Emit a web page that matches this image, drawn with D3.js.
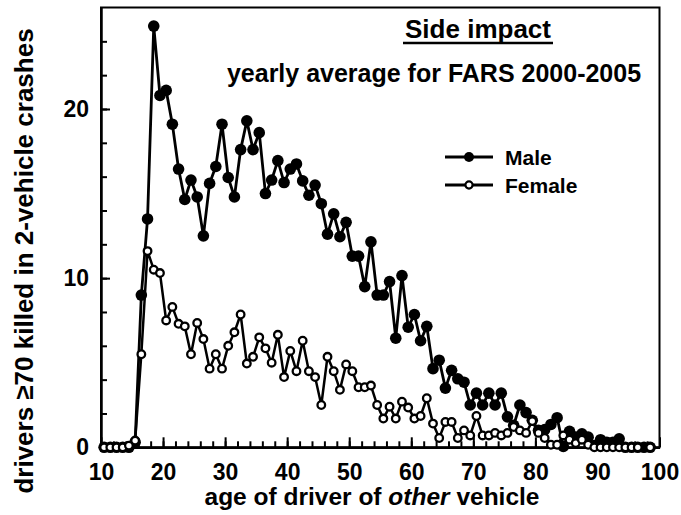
<!DOCTYPE html>
<html lang="en">
<head>
    <meta charset="UTF-8">
    <title>side impact</title>
    <script src="https://cdn.jsdelivr.net/npm/d3@7"></script>
    <style>
        body { margin: 0; background: #fff; }
        text { font-family: Arial, "Liberation Sans", sans-serif; font-weight: bold; }
    </style>
</head>
<body>
<svg width="681" height="515" xmlns="http://www.w3.org/2000/svg" id="my-svg"></svg>
<script>
    // age of the other driver (points sit in the middle of each year)
    const ages = d3.range(10.5, 99, 1);

    // drivers >=70 killed, yearly average
    const male = [
        0, 0, 0, 0, 0, 0.3, 9.0, 13.5, 24.9, 20.8,
        21.1, 19.1, 16.45, 14.65, 15.8, 14.8, 12.5, 15.6, 16.6, 19.1,
        15.95, 14.8, 17.6, 19.3, 17.6, 18.6, 15.0, 15.8, 16.95, 15.65,
        16.45, 16.75, 15.75, 14.9, 15.5, 14.4, 12.6, 13.8, 12.45, 13.3,
        11.3, 11.3, 9.5, 12.15, 9.0, 9.0, 9.8, 6.45, 10.15, 7.1,
        7.85, 6.3, 7.15, 4.65, 5.15, 3.5, 4.55, 4.05, 3.85, 2.5,
        3.2, 2.5, 3.2, 2.5, 3.2, 1.8, 1.3, 2.5, 2.05, 1.6,
        1.0, 1.05, 1.35, 1.75, 0.05, 0.95, 0.6, 0.8, 0.6, 0.1,
        0.45, 0.3, 0.3, 0.5, 0, 0, 0, 0, 0
    ];
    const female = [
        0, 0, 0, 0, 0.1, 0.4, 5.5, 11.6, 10.5, 10.3,
        7.5, 8.3, 7.3, 7.15, 5.5, 7.35, 6.4, 4.65, 5.5, 4.65,
        6.0, 6.8, 7.85, 4.95, 5.35, 6.5, 5.85, 5.0, 6.65, 4.15,
        5.7, 4.5, 6.3, 4.5, 4.15, 2.5, 5.35, 4.5, 3.4, 4.9,
        4.5, 3.55, 3.55, 3.65, 2.5, 1.7, 2.4, 1.7, 2.7, 2.35,
        1.7, 1.85, 2.9, 1.4, 0.55, 1.5, 1.5, 0.55, 1.0, 0.7,
        1.85, 0.7, 0.7, 0.85, 0.7, 0.85, 1.2, 1.0, 0.85, 1.55,
        0.85, 0.55, 0.15, 0.15, 0.7, 0.45, 0.25, 0.45, 0.15, 0,
        0, 0, 0, 0, 0, 0, 0, null, 0
    ];

    const xMajor = [10, 20, 30, 40, 50, 60, 70, 80, 90, 100];
    const yMajor = [0, 10, 20];
    const seriesNames = ["Male", "Female"];

    const [pLeft, pRight, pTop, pBottom] = [101, 659.5, 7.5, 447.3];

    const svg = d3.select("#my-svg");
    const x = d3.scaleLinear().domain([10, 100]).range([pLeft, pRight]);
    const y = d3.scaleLinear().domain([0, 26]).range([pBottom, pTop]);

    // frame
    svg.append("rect")
        .attr("x", pLeft).attr("y", pTop)
        .attr("width", pRight - pLeft).attr("height", pBottom - pTop)
        .attr("fill", "none").attr("stroke", "black").attr("stroke-width", 2);

    // minor ticks (inside)
    svg.append("g")
        .attr("transform", `translate(0,${pBottom})`)
        .call(d3.axisBottom(x).tickValues(d3.range(12, 100, 2)).tickSizeInner(-6).tickSizeOuter(0).tickFormat(""))
        .call(g => g.select(".domain").remove());
    svg.append("g")
        .attr("transform", `translate(${pLeft},0)`)
        .call(d3.axisLeft(y).tickValues(d3.range(2, 26, 2)).tickSizeInner(-6).tickSizeOuter(0).tickFormat(""))
        .call(g => g.select(".domain").remove());

    // major ticks + labels
    const xAxis = svg.append("g")
        .attr("transform", `translate(0,${pBottom})`)
        .call(d3.axisBottom(x).tickValues(xMajor).tickSizeInner(-10).tickSizeOuter(0).tickPadding(16));
    const yAxis = svg.append("g")
        .attr("transform", `translate(${pLeft},0)`)
        .call(d3.axisLeft(y).tickValues(yMajor).tickSizeInner(-9).tickSizeOuter(0).tickPadding(12));

    svg.selectAll(".tick line").attr("stroke", "black").attr("stroke-width", 2);
    [xAxis, yAxis].forEach(g => {
        g.select(".domain").attr("stroke-width", 2.5);
        g.selectAll("text")
            .style("font-size", "23px")
            .style("font-family", "Arial, 'Liberation Sans', sans-serif")
            .style("font-weight", "bold")
            .attr("fill", "black");
    });

    // series
    const line = d3.line()
        .x(d => x(d[0]))
        .y(d => y(d[1]));

    const malePts = ages.map((a, i) => [a, male[i]]).filter(d => d[1] !== null);
    const femalePts = ages.map((a, i) => [a, female[i]]).filter(d => d[1] !== null);

    svg.append("path")
        .attr("d", line(malePts))
        .attr("fill", "none").attr("stroke", "black").attr("stroke-width", 2.8);
    svg.append("g").selectAll("circle")
        .data(malePts).join("circle")
        .attr("cx", d => x(d[0])).attr("cy", d => y(d[1]))
        .attr("r", 5.8).attr("fill", "black");

    svg.append("path")
        .attr("d", line(femalePts))
        .attr("fill", "none").attr("stroke", "black").attr("stroke-width", 2.5);
    svg.append("g").selectAll("circle")
        .data(femalePts).join("circle")
        .attr("cx", d => x(d[0])).attr("cy", d => y(d[1]))
        .attr("r", 3.8).attr("fill", "white")
        .attr("stroke", "black").attr("stroke-width", 2.3);

    // titles
    svg.append("text")
        .attr("x", 478).attr("y", 38)
        .attr("text-anchor", "middle")
        .style("font-size", "26px")
        .text("Side impact");
    svg.append("line")
        .attr("x1", 403).attr("x2", 553).attr("y1", 43).attr("y2", 43)
        .attr("stroke", "black").attr("stroke-width", 2.6);
    svg.append("text")
        .attr("x", 434).attr("y", 82)
        .attr("text-anchor", "middle")
        .style("font-size", "25px")
        .text("yearly average for FARS 2000-2005");

    // legend
    const legend = svg.append("g");
    seriesNames.forEach((name, i) => {
        const ly = 157 + i * 28;
        legend.append("line")
            .attr("x1", 445).attr("x2", 493).attr("y1", ly).attr("y2", ly)
            .attr("stroke", "black").attr("stroke-width", 3);
        legend.append("circle")
            .attr("cx", 469).attr("cy", ly)
            .attr("r", i === 0 ? 5 : 3.6)
            .attr("fill", i === 0 ? "black" : "white")
            .attr("stroke", "black").attr("stroke-width", i === 0 ? 0 : 2.2);
        legend.append("text")
            .attr("x", 505).attr("y", ly + 8)
            .style("font-size", "21px")
            .text(name);
    });

    // axis titles
    const xt = svg.append("text")
        .attr("x", 372).attr("y", 505)
        .attr("text-anchor", "middle")
        .style("font-size", "24.5px");
    xt.append("tspan").text("age of driver of ");
    xt.append("tspan").style("font-style", "italic").text("other");
    xt.append("tspan").text(" vehicle");

    svg.append("text")
        .attr("transform", "translate(33,261) rotate(-90)")
        .attr("text-anchor", "middle")
        .style("font-size", "26px")
        .text("drivers ≥70 killed in 2-vehicle crashes");
</script>
</body>
</html>
